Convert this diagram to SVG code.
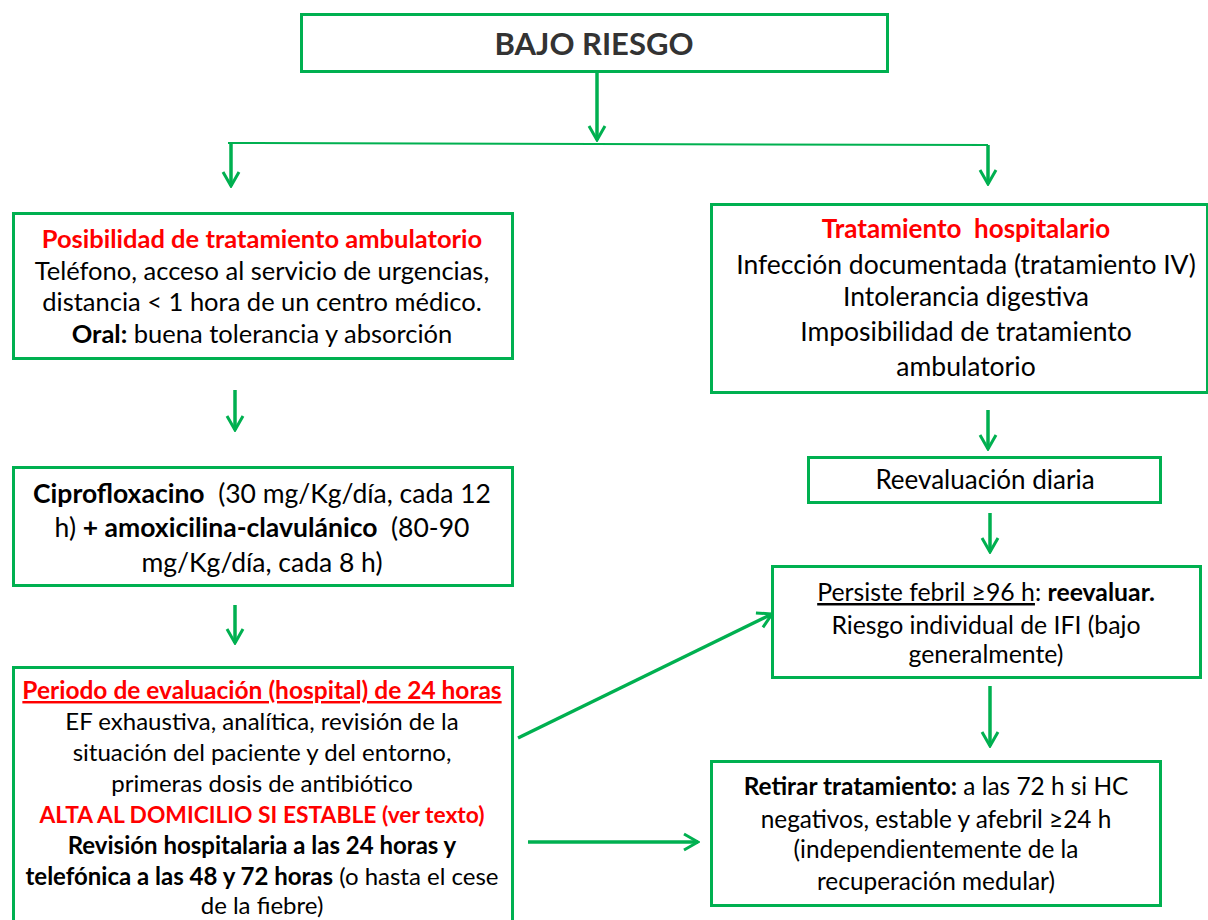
<svg xmlns="http://www.w3.org/2000/svg" width="1208" height="920" viewBox="0 0 1208 920">
<defs>
<style>
.box{fill:#fff;stroke:#00B050;stroke-width:3}
.ln{stroke:#00B050;stroke-width:3.5;fill:none}
text{font-family:Lato,"Liberation Sans",sans-serif;font-size:24px;fill:#000;text-anchor:middle}
.b{font-weight:bold}
.r{fill:#FF0000;font-weight:bold}
.u{text-decoration:underline}
</style>
<marker id="a" viewBox="0 0 20 20" refX="18" refY="10" markerWidth="20" markerHeight="20" markerUnits="userSpaceOnUse" orient="auto">
<path d="M4,2 L18,10 L4,18" fill="none" stroke="#00B050" stroke-width="3"/>
</marker>
</defs>
<g id="connectors">
<line class="ln" x1="597" y1="71" x2="597" y2="140" marker-end="url(#a)"/>
<line class="ln" x1="228" y1="143" x2="988" y2="145" style="stroke-width:2"/>
<line class="ln" x1="231" y1="143" x2="231" y2="186" marker-end="url(#a)"/>
<line class="ln" x1="988" y1="145" x2="988" y2="184" marker-end="url(#a)"/>
<line class="ln" x1="235" y1="390" x2="235" y2="430" marker-end="url(#a)"/>
<line class="ln" x1="235" y1="605" x2="235" y2="643" marker-end="url(#a)"/>
<line class="ln" x1="988" y1="410" x2="988" y2="449" marker-end="url(#a)"/>
<line class="ln" x1="990" y1="513" x2="990" y2="552" marker-end="url(#a)"/>
<line class="ln" x1="990" y1="686" x2="990" y2="746" marker-end="url(#a)"/>
<line class="ln" x1="518" y1="738" x2="772" y2="614" marker-end="url(#a)"/>
<line class="ln" x1="528" y1="842" x2="698" y2="842" marker-end="url(#a)"/>
</g>
<g id="n_bajo">
<rect class="box" x="301.5" y="14.5" width="586" height="57"/>
<text x="594" y="55" class="b" style="font-size:31px;fill:#333">BAJO RIESGO</text>
</g>
<g id="n_ambulatorio">
<rect class="box" x="13.5" y="213.5" width="499" height="145"/>
<text x="262" y="248" class="r" style="font-size:25.5px">Posibilidad de tratamiento ambulatorio</text>
<text x="262" y="280" style="font-size:25.5px">Teléfono, acceso al servicio de urgencias,</text>
<text x="262" y="311" style="font-size:25.5px">distancia &lt; 1 hora de un centro médico.</text>
<text x="262" y="343" style="font-size:25.5px"><tspan class="b">Oral:</tspan> buena tolerancia y absorción</text>
</g>
<g id="n_cipro">
<rect class="box" x="13.5" y="467.5" width="499" height="118"/>
<text x="262" y="503" style="font-size:26.5px"><tspan class="b">Ciprofloxacino</tspan>&#160; (30 mg/Kg/día, cada 12</text>
<text x="262" y="537" style="font-size:26.5px">h) <tspan class="b">+ amoxicilina-clavulánico</tspan>&#160; (80-90</text>
<text x="262" y="572" style="font-size:26.5px">mg/Kg/día, cada 8 h)</text>
</g>
<g id="n_periodo">
<rect class="box" x="13.5" y="667.5" width="499" height="270"/>
<text x="262" y="699" class="r u" style="font-size:24.5px">Periodo de evaluación (hospital) de 24 horas</text>
<text x="262" y="730">EF exhaustiva, analítica, revisión de la</text>
<text x="262" y="761">situación del paciente y del entorno,</text>
<text x="262" y="792">primeras dosis de antibiótico</text>
<text x="262" y="823" class="r" style="font-size:22.8px">ALTA AL DOMICILIO SI ESTABLE (ver texto)</text>
<text x="262" y="854" class="b">Revisión hospitalaria a las 24 horas y</text>
<text x="262" y="885"><tspan class="b">telefónica a las 48 y 72 horas</tspan> (o hasta el cese</text>
<text x="262" y="914">de la fiebre)</text>
</g>
<g id="n_hospitalario">
<rect class="box" x="711.5" y="204.5" width="496" height="188"/>
<text x="966" y="238" class="r" style="font-size:26px">Tratamiento&#160; hospitalario</text>
<text x="966" y="274" style="font-size:26.5px">Infección documentada (tratamiento IV)</text>
<text x="966" y="306" style="font-size:26.5px">Intolerancia digestiva</text>
<text x="966" y="341" style="font-size:26.5px">Imposibilidad de tratamiento</text>
<text x="966" y="376" style="font-size:26.5px">ambulatorio</text>
</g>
<g id="n_reeval">
<rect class="box" x="808.5" y="457.5" width="352" height="45"/>
<text x="985" y="489" style="font-size:26px">Reevaluación diaria</text>
</g>
<g id="n_persiste">
<rect class="box" x="772.5" y="566.5" width="428" height="111"/>
<text x="986" y="601" style="font-size:24.8px"><tspan class="u">Persiste febril ≥96 h</tspan>: <tspan class="b">reevaluar.</tspan></text>
<text x="986" y="634" style="font-size:24.8px">Riesgo individual de IFI (bajo</text>
<text x="986" y="663" style="font-size:24.8px">generalmente)</text>
</g>
<g id="n_retirar">
<rect class="box" x="711.5" y="761.5" width="449" height="144"/>
<text x="936" y="795" style="font-size:24.4px"><tspan class="b">Retirar tratamiento:</tspan> a las 72 h si HC</text>
<text x="936" y="828" style="font-size:24.4px">negativos, estable y afebril ≥24 h</text>
<text x="936" y="858" style="font-size:24.4px">(independientemente de la</text>
<text x="936" y="890" style="font-size:24.4px">recuperación medular)</text>
</g>
</svg>
